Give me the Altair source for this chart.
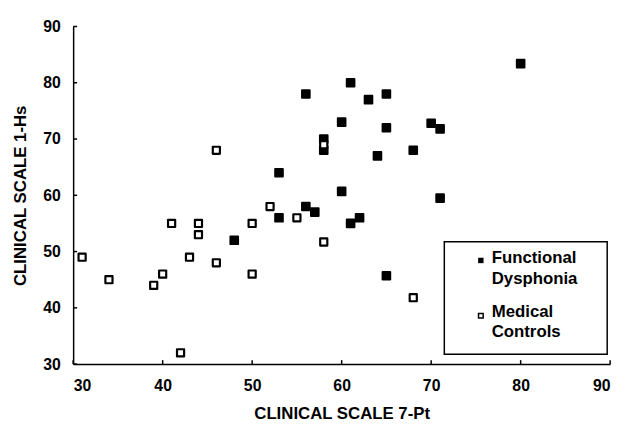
import altair as alt
import pandas as pd

# Functional Dysphonia (filled squares)
fd_x = [48, 53, 53, 56, 56, 57, 58, 58, 60, 60, 61, 61, 62, 63, 64, 65, 65, 65, 68, 70, 71, 71, 80]
fd_y = [52, 64, 56, 78, 58, 57, 70, 68, 73, 60.7, 80, 55, 56, 77, 67, 78, 72, 45.7, 68, 72.8, 71.8, 59.5, 83.4]
# Medical Controls (open squares)
mc_x = [31, 34, 39, 40, 41, 42, 43, 44, 44, 46, 46, 50, 50, 52, 55, 58, 58, 68]
mc_y = [49, 45, 44, 46, 55, 32, 49, 55, 53, 68, 48, 55, 46, 58, 56, 69, 51.7, 41.8]
tick_values = [30, 40, 50, 60, 70, 80, 90]
legend_labels = ["Functional\nDysphonia", "Medical\nControls"]

FONT = "Liberation Sans"

fd = pd.DataFrame({"x": fd_x, "y": fd_y})
mc = pd.DataFrame({"x": mc_x, "y": mc_y})
tk = pd.DataFrame({"t": tick_values})

xs = alt.Scale(domain=[30, 90], nice=False, zero=False)
ys = alt.Scale(domain=[30, 90], nice=False, zero=False)

xaxis = alt.Axis(values=tick_values, grid=False, ticks=False, domainColor="black", domainWidth=1.5,
                 labelFont=FONT, labelFontWeight="bold", labelFontSize=16, labelColor="black",
                 labelPadding=14, title="CLINICAL SCALE 7-Pt", titleFont=FONT, titleFontWeight="bold",
                 titleFontSize=17, titleColor="black", titlePadding=12)
yaxis = alt.Axis(values=tick_values, grid=False, ticks=False, domainColor="black", domainWidth=1.5,
                 labelFont=FONT, labelFontWeight="bold", labelFontSize=16, labelColor="black",
                 labelPadding=13, title="CLINICAL SCALE 1-Hs", titleFont=FONT, titleFontWeight="bold",
                 titleFontSize=17, titleColor="black", titlePadding=13)

filled = alt.Chart(fd).mark_square(color="black", opacity=1, size=60, stroke="black",
                                   strokeWidth=2, strokeJoin="round").encode(
    x=alt.X("x:Q", scale=xs, axis=xaxis),
    y=alt.Y("y:Q", scale=ys, axis=yaxis),
)
opened = alt.Chart(mc).mark_square(fill="white", opacity=1, fillOpacity=1, size=52, stroke="black",
                                   strokeWidth=2.2, strokeJoin="round").encode(
    x="x:Q", y="y:Q",
)

xticks = alt.Chart(tk).mark_rule(color="black", strokeWidth=1.5).encode(
    x="t:Q", y=alt.value(342), y2=alt.value(338))
yticks = alt.Chart(tk).mark_rule(color="black", strokeWidth=1.5).encode(
    y="t:Q", x=alt.value(0), x2=alt.value(4))

leg = pd.DataFrame({"label": legend_labels})
box = alt.Chart(leg.head(1)).mark_rect(fill="white", stroke="black", strokeWidth=1.5).encode(
    x=alt.value(376), x2=alt.value(541), y=alt.value(218), y2=alt.value(332))
leg_fd_mark = alt.Chart(leg.head(1)).mark_square(color="black", opacity=1, size=30).encode(
    x=alt.value(413), y=alt.value(237))
leg_mc_mark = alt.Chart(leg.head(1)).mark_square(fill="white", opacity=1, size=22, stroke="black",
                                                 strokeWidth=1.5).encode(
    x=alt.value(413), y=alt.value(293))
leg_fd_text = alt.Chart(leg.iloc[[0]]).mark_text(align="left", baseline="alphabetic", lineBreak="\n",
                                                 lineHeight=21, font=FONT, fontWeight="bold",
                                                 fontSize=17, color="black").encode(
    x=alt.value(424), y=alt.value(240), text="label:N")
leg_mc_text = alt.Chart(leg.iloc[[1]]).mark_text(align="left", baseline="alphabetic", lineBreak="\n",
                                                 lineHeight=21, font=FONT, fontWeight="bold",
                                                 fontSize=17, color="black").encode(
    x=alt.value(424), y=alt.value(294), text="label:N")

chart = alt.layer(filled, opened, xticks, yticks, box, leg_fd_mark, leg_mc_mark, leg_fd_text, leg_mc_text).properties(
    width=544, height=342,
    autosize=alt.AutoSizeParams(type="none"),
    padding={"left": 66, "top": 16, "right": 12, "bottom": 62},
    background="white",
).configure_view(stroke=None)

chart.save("out.html", embed_options={"renderer": "svg", "actions": False})
